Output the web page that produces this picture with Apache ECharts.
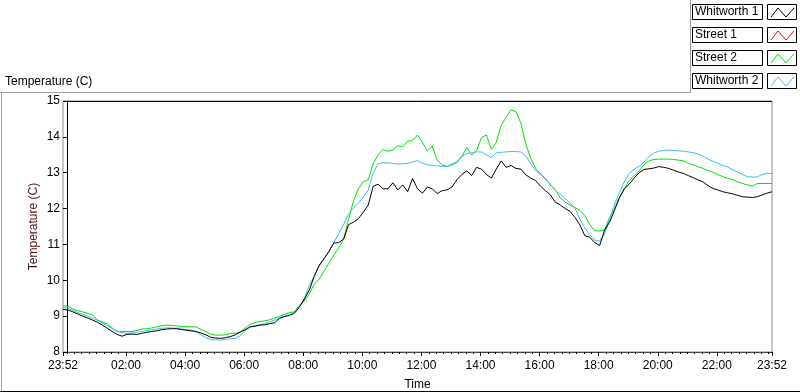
<!DOCTYPE html>
<html>
<head>
<meta charset="utf-8">
<title>Temperature (C)</title>
<script src="https://cdn.jsdelivr.net/npm/echarts@6/dist/echarts.min.js"></script>
<style>
html,body{margin:0;padding:0;background:#fff;}
#main{width:800px;height:392px;}
</style>
</head>
<body>
<div id="main"></div>
<script>
// samples every 10 min starting 23:52 (minutes from midnight, -8)
var startMin = -8;
var stepMin = 10;

var whitworth1 = [
  9.19, 9.17, 9.12, 9.06, 9.00, 8.95, 8.89, 8.83, 8.75, 8.66,
  8.57, 8.49, 8.44, 8.49, 8.50, 8.49, 8.52, 8.55, 8.57, 8.59,
  8.62, 8.64, 8.65, 8.65, 8.63, 8.61, 8.59, 8.57, 8.53, 8.48,
  8.41, 8.39, 8.38, 8.40, 8.43, 8.48, 8.56, 8.62, 8.70, 8.72,
  8.75, 8.76, 8.79, 8.82, 8.94, 8.99, 9.02, 9.08, 9.25, 9.47,
  9.72, 10.10, 10.40, 10.60, 10.80, 11.04, 11.05, 11.15, 11.55, 11.62,
  11.72, 11.90, 12.10, 12.62, 12.68, 12.55, 12.55, 12.72, 12.52, 12.66,
  12.47, 12.84, 12.55, 12.43, 12.60, 12.55, 12.42, 12.50, 12.52, 12.60,
  12.80, 12.95, 13.05, 12.92, 13.15, 13.10, 12.95, 12.85, 13.10, 13.33,
  13.15, 13.20, 13.12, 13.10, 12.94, 12.85, 12.78, 12.62, 12.50, 12.38,
  12.18, 12.10, 12.00, 11.92, 11.75, 11.54, 11.24, 11.20, 11.05, 10.97,
  11.40, 11.62, 11.95, 12.30, 12.55, 12.68, 12.85, 13.00, 13.09, 13.11,
  13.13, 13.17, 13.15, 13.12, 13.07, 13.02, 12.98, 12.92, 12.86, 12.80,
  12.74, 12.64, 12.56, 12.52, 12.47, 12.44, 12.41, 12.37, 12.33, 12.32,
  12.31, 12.33, 12.38, 12.43, 12.47
];

var street1 = [];

var street2 = [
  9.29, 9.28, 9.20, 9.15, 9.12, 9.08, 9.03, 8.89, 8.84, 8.78,
  8.67, 8.57, 8.57, 8.57, 8.57, 8.60, 8.64, 8.65, 8.67, 8.70,
  8.73, 8.75, 8.74, 8.73, 8.72, 8.71, 8.70, 8.70, 8.63, 8.57,
  8.50, 8.47, 8.47, 8.48, 8.52, 8.52, 8.55, 8.67, 8.77, 8.82,
  8.85, 8.87, 8.90, 8.95, 9.00, 9.05, 9.10, 9.12, 9.30, 9.42,
  9.62, 9.88, 10.03, 10.25, 10.48, 10.70, 10.90, 11.15, 11.70, 12.22,
  12.55, 12.75, 12.80, 13.25, 13.50, 13.65, 13.60, 13.63, 13.75, 13.72,
  13.88, 13.90, 14.05, 13.85, 13.60, 13.75, 13.35, 13.22, 13.17, 13.22,
  13.28, 13.45, 13.70, 13.50, 13.62, 13.98, 14.05, 13.65, 13.85, 14.32,
  14.55, 14.75, 14.70, 14.38, 13.80, 13.40, 13.12, 12.97, 12.84, 12.66,
  12.52, 12.30, 12.18, 12.10, 12.03, 11.95, 11.80, 11.55, 11.38, 11.38,
  11.40, 11.75, 12.00, 12.30, 12.55, 12.78, 12.92, 13.05, 13.22, 13.33,
  13.37, 13.38, 13.38, 13.38, 13.37, 13.35, 13.33, 13.26, 13.22, 13.17,
  13.12, 13.06, 13.02, 12.95, 12.89, 12.84, 12.80, 12.75, 12.70, 12.66,
  12.62, 12.70, 12.70, 12.70, 12.70
];

var whitworth2 = [
  9.25, 9.22, 9.16, 9.10, 9.05, 9.00, 8.94, 8.88, 8.81, 8.73,
  8.66, 8.58, 8.54, 8.52, 8.53, 8.55, 8.57, 8.60, 8.62, 8.64,
  8.66, 8.67, 8.67, 8.66, 8.64, 8.63, 8.61, 8.58, 8.48, 8.40,
  8.35, 8.34, 8.33, 8.35, 8.37, 8.38, 8.45, 8.60, 8.70, 8.73,
  8.76, 8.79, 8.84, 8.89, 8.96, 9.00, 9.05, 9.10, 9.28, 9.48,
  9.85, 10.10, 10.42, 10.60, 10.80, 11.05, 11.30, 11.56, 11.85, 12.02,
  12.15, 12.32, 12.52, 13.00, 13.25, 13.28, 13.27, 13.26, 13.24, 13.25,
  13.26, 13.30, 13.34, 13.26, 13.22, 13.21, 13.19, 13.17, 13.18, 13.24,
  13.31, 13.45, 13.54, 13.55, 13.58, 13.58, 13.50, 13.42, 13.55, 13.57,
  13.58, 13.59, 13.59, 13.58, 13.47, 13.25, 13.05, 12.96, 12.82, 12.66,
  12.50, 12.40, 12.28, 12.15, 12.00, 11.70, 11.45, 11.27, 11.12, 11.10,
  11.30, 11.70, 12.10, 12.45, 12.75, 12.98, 13.10, 13.18, 13.30, 13.45,
  13.55, 13.60, 13.62, 13.63, 13.62, 13.61, 13.60, 13.58, 13.56, 13.52,
  13.46, 13.38, 13.32, 13.27, 13.20, 13.16, 13.08, 13.02, 12.95, 12.89,
  12.88, 12.88, 12.95, 12.98, 12.98
];

// axis ticks (minutes from midnight)
var xMajor = [-8, 120, 240, 360, 480, 600, 720, 840, 960, 1080, 1200, 1320, 1432];
var xMinor = [];
for (var m = 0; m < 1432; m += 15) xMinor.push(m);

var legendNames = ['Whitworth 1', 'Street 1', 'Street 2', 'Whitworth 2'];
var legendColors = ['#000000', '#ff0000', '#00e000', '#3cbcf8'];

function pairs(vals) {
  var out = [];
  for (var i = 0; i < vals.length; i++) out.push([startMin + i * stepMin, vals[i]]);
  return out;
}

function hhmm(v) {
  var m = ((Math.round(v) % 1440) + 1440) % 1440;
  var h = Math.floor(m / 60), mm = m % 60;
  return (h < 10 ? '0' : '') + h + ':' + (mm < 10 ? '0' : '') + mm;
}

var font = 'Liberation Sans, Arial, sans-serif';

// frame lines, title and legend boxes
var graphics = [
  {type: 'line', shape: {x1: 0, y1: 92.5, x2: 690, y2: 92.5}, style: {stroke: '#a0a0a0', lineWidth: 1}},
  {type: 'line', shape: {x1: 690.5, y1: 0, x2: 690.5, y2: 93}, style: {stroke: '#a0a0a0', lineWidth: 1}},
  {type: 'line', shape: {x1: 1.5, y1: 92, x2: 1.5, y2: 392}, style: {stroke: '#a0a0a0', lineWidth: 1}},
  {type: 'line', shape: {x1: 0, y1: 391.5, x2: 800, y2: 391.5}, style: {stroke: '#000', lineWidth: 1}},
  {type: 'line', shape: {x1: 63, y1: 101.5, x2: 772, y2: 101.5}, style: {stroke: '#000', lineWidth: 1}, z: 10},
  {type: 'text', x: 5, y: 76, style: {text: 'Temperature (C)', font: '12px ' + font, fill: '#000'}}
];
legendNames.forEach(function (name, k) {
  var top = 4 + k * 23;
  graphics.push({type: 'rect', shape: {x: 692.5, y: top + 0.5, width: 70, height: 15}, style: {fill: '#fff', stroke: '#000', lineWidth: 1}});
  graphics.push({type: 'text', x: 695, y: top + 2, style: {text: name, font: '12px ' + font, fill: '#000'}});
  graphics.push({type: 'rect', shape: {x: 767.5, y: top + 0.5, width: 29, height: 15}, style: {fill: '#fff', stroke: '#000', lineWidth: 1}});
  graphics.push({type: 'polyline', shape: {points: [[771, top + 13], [778, top + 4], [786, top + 13], [794, top + 4]]},
    style: {stroke: legendColors[k], lineWidth: 1, fill: null}});
});

var chart = echarts.init(document.getElementById('main'));
var option = {
  animation: false,
  backgroundColor: '#fff',
  textStyle: {fontFamily: font},
  grid: {left: 63, right: 28, top: 101, bottom: 40, outerBoundsMode: 'none', containLabel: false,
    show: true, borderColor: '#8c8c8c', borderWidth: 1, backgroundColor: '#fff'},
  xAxis: [{
    type: 'value', min: -8, max: 1432, position: 'bottom',
    name: 'Time', nameLocation: 'middle', nameGap: 27,
    nameTextStyle: {color: '#000', fontSize: 12, fontFamily: font},
    axisLine: {show: true, onZero: false, lineStyle: {color: '#404040'}},
    axisTick: {show: true, length: 4, customValues: xMajor, lineStyle: {color: '#000'}},
    axisLabel: {customValues: xMajor, color: '#000', fontSize: 12, margin: 8, formatter: hhmm, showMinLabel: true, showMaxLabel: true},
    splitLine: {show: false}
  }, {
    // minor ticks: a top axis moved down onto the bottom edge
    type: 'value', min: -8, max: 1432, position: 'top', offset: -251,
    axisLine: {show: false},
    axisTick: {show: true, inside: true, length: 2, customValues: xMinor, lineStyle: {color: '#000'}},
    axisLabel: {show: false},
    splitLine: {show: false}
  }],
  yAxis: {
    type: 'value', min: 8, max: 15, interval: 1,
    name: 'Temperature (C)', nameLocation: 'middle', nameGap: 23, nameRotate: 90, nameMoveOverlap: false,
    nameTextStyle: {color: '#4a1414', fontSize: 12, fontFamily: font},
    axisLine: {show: true, lineStyle: {color: '#000'}},
    axisTick: {show: true, length: 4, lineStyle: {color: '#000'}},
    axisLabel: {color: '#000', fontSize: 12, margin: 3},
    splitLine: {show: false}
  },
  series: [
    {name: 'Street 1', type: 'line', data: pairs(street1), showSymbol: false, lineStyle: {width: 1, color: legendColors[1]}},
    {name: 'Street 2', type: 'line', data: pairs(street2), showSymbol: false, lineStyle: {width: 1, color: legendColors[2]}},
    {name: 'Whitworth 2', type: 'line', data: pairs(whitworth2), showSymbol: false, lineStyle: {width: 1, color: legendColors[3]}},
    {name: 'Whitworth 1', type: 'line', data: pairs(whitworth1), showSymbol: false, lineStyle: {width: 1, color: legendColors[0]}}
  ],
  graphic: graphics
};
chart.setOption(option);
</script>
</body>
</html>
